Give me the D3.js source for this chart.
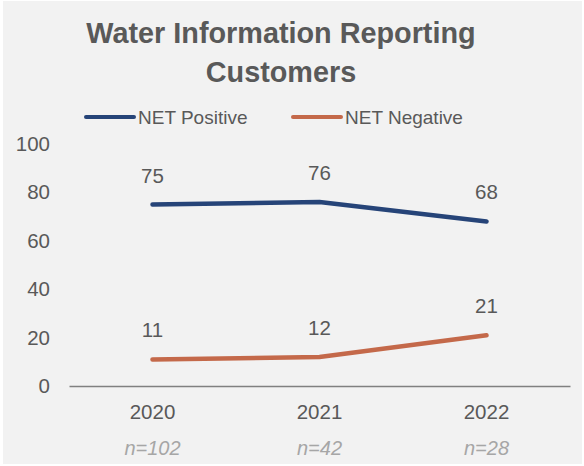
<!DOCTYPE html>
<html>
<head>
<meta charset="utf-8">
<script src="https://cdn.jsdelivr.net/npm/d3@7/dist/d3.min.js"></script>
<style>
  html, body { margin: 0; padding: 0; background: #ffffff; }
  svg { display: block; font-family: "Liberation Sans", Arial, sans-serif; }
</style>
</head>
<body>
<svg id="chart" width="584" height="466"></svg>
<script>
// Chart data
const years = ["2020", "2021", "2022"];
const sampleSizes = ["n=102", "n=42", "n=28"];
const netPositive = [75, 76, 68];
const netNegative = [11, 12, 21];
const yTicks = [0, 20, 40, 60, 80, 100];
const seriesNames = ["NET Positive", "NET Negative"];
const seriesColors = ["#264478", "#c4694a"];

const svg = d3.select("#chart");
const W = 584, H = 466;

// panel background
svg.append("rect")
  .attr("x", 3).attr("y", 1)
  .attr("width", W - 5).attr("height", H - 3)
  .attr("fill", "#f2f2f2");

const plot = { left: 69, right: 570, top: 144, bottom: 386 };

const x = d3.scaleBand()
  .domain(years)
  .range([plot.left, plot.right])
  .padding(0);

const y = d3.scaleLinear()
  .domain([0, 100])
  .range([plot.bottom, plot.top]);

const textColor = "#595959";
const numSize = 20.5;

// title
const title = svg.append("text")
  .attr("text-anchor", "middle")
  .attr("fill", textColor)
  .attr("font-weight", "bold")
  .attr("font-size", 28.8);
title.append("tspan").attr("x", 281).attr("y", 43).text("Water Information Reporting");
title.append("tspan").attr("x", 281).attr("y", 82).text("Customers");

// legend
const legendItems = [
  { name: seriesNames[0], color: seriesColors[0], x: 86 },
  { name: seriesNames[1], color: seriesColors[1], x: 293 }
];
const lg = svg.append("g");
legendItems.forEach(d => {
  lg.append("line")
    .attr("x1", d.x).attr("x2", d.x + 48)
    .attr("y1", 117).attr("y2", 117)
    .attr("stroke", d.color)
    .attr("stroke-width", 4)
    .attr("stroke-linecap", "round");
  lg.append("text")
    .attr("x", d.x + 52).attr("y", 124)
    .attr("fill", textColor)
    .attr("font-size", 19)
    .text(d.name);
});

// y axis labels (no axis line)
const yAxis = d3.axisLeft(y).tickValues(yTicks).tickSize(0).tickPadding(0);
const yg = svg.append("g")
  .attr("transform", `translate(50,0)`)
  .call(yAxis);
yg.select(".domain").remove();
yg.selectAll("text")
  .attr("fill", textColor)
  .attr("font-size", numSize)
  .attr("font-family", "Liberation Sans, Arial, sans-serif");

// x axis
const xAxis = d3.axisBottom(x).tickSize(0).tickPadding(0);
const xg = svg.append("g")
  .attr("transform", `translate(0,${plot.bottom})`)
  .call(xAxis);
xg.select(".domain")
  .attr("stroke", "#808080")
  .attr("stroke-width", 1.5);
xg.selectAll("text")
  .attr("fill", textColor)
  .attr("font-size", numSize)
  .attr("font-family", "Liberation Sans, Arial, sans-serif")
  .attr("dy", null)
  .attr("y", 33);

// sample size labels
svg.append("g").selectAll("text")
  .data(years)
  .join("text")
  .attr("x", d => x(d) + x.bandwidth() / 2)
  .attr("y", 455)
  .attr("text-anchor", "middle")
  .attr("fill", "#a6a6a6")
  .attr("font-size", 20)
  .attr("font-style", "italic")
  .text((d, i) => sampleSizes[i]);

// series lines + value labels
const series = [netPositive, netNegative];
const line = d3.line()
  .x((d, i) => x(years[i]) + x.bandwidth() / 2)
  .y(d => y(d));

series.forEach((vals, si) => {
  svg.append("path")
    .datum(vals)
    .attr("d", line)
    .attr("fill", "none")
    .attr("stroke", seriesColors[si])
    .attr("stroke-width", 4.5)
    .attr("stroke-linecap", "round")
    .attr("stroke-linejoin", "round");

  svg.append("g").selectAll("text")
    .data(vals)
    .join("text")
    .attr("x", (d, i) => x(years[i]) + x.bandwidth() / 2)
    .attr("y", d => y(d) - 22)
    .attr("text-anchor", "middle")
    .attr("fill", textColor)
    .attr("font-size", numSize)
    .text(d => d);
});
</script>
</body>
</html>
